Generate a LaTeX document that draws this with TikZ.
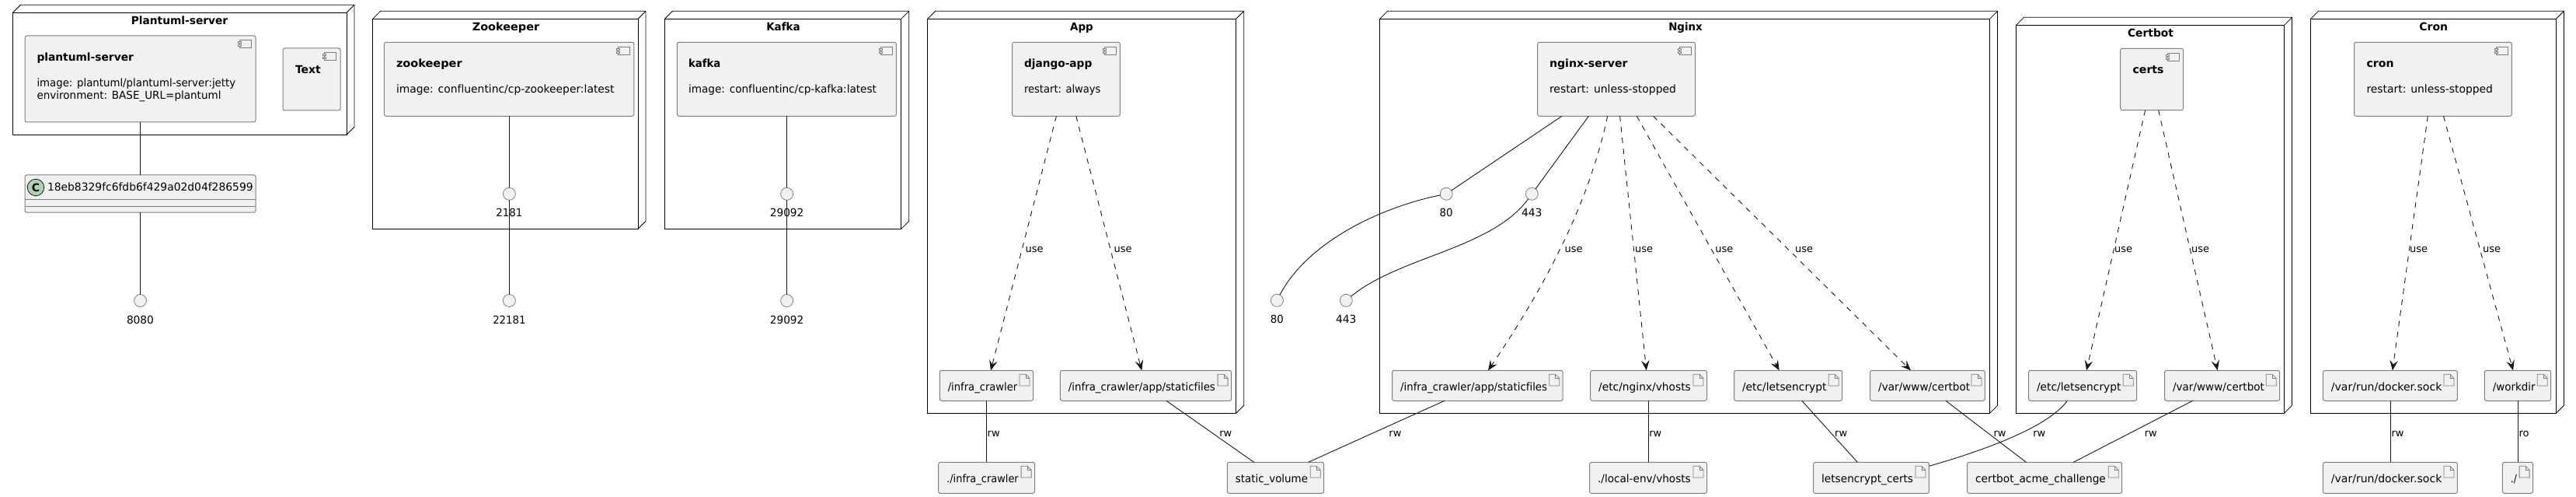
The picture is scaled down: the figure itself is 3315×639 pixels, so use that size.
\documentclass[tikz,border=0pt]{standalone}
\usepackage{graphicx}
\usepackage{fontspec}
\setmainfont[Ligatures=NoCommon]{DejaVu Sans}
\usetikzlibrary{arrows.meta}
\definecolor{boxfill}{HTML}{F1F1F1}
\definecolor{ink}{HTML}{181818}
\definecolor{edgegray}{HTML}{7F7F7F}
\definecolor{classgreen}{HTML}{ADD1B2}
\tikzset{
  base14/.style={font=\fontsize{14}{16}\selectfont,text=black,inner sep=0pt,outer sep=0pt,anchor=base west},
  boldtitle/.style={base14,font=\fontsize{14}{16}\selectfont\bfseries},
  midtitle/.style={boldtitle,anchor=base},
  edgelabel/.style={base14,font=\fontsize{13}{15}\selectfont},
  portlabel/.style={base14,anchor=base},
  deploybox/.style={rectangle,draw=black,line width=1pt,inner sep=0pt,outer sep=0pt},
  deployline/.style={draw=black,line width=.8pt},
  compbox/.style={rectangle,draw=edgegray,fill=boxfill,line width=1pt,rounded corners=2.5pt,inner sep=0pt,outer sep=0pt},
  iconline/.style={draw=edgegray,line width=.8pt,fill=boxfill},
  wire/.style={draw=ink,line width=.9pt},
  usewire/.style={draw=ink,line width=.9pt,dash pattern=on 7pt off 7pt,-{Stealth[length=13pt,width=10.5pt,inset=5pt]}},
  portdot/.style={circle,draw=edgegray,fill=boxfill,line width=.8pt,minimum size=16pt,inner sep=0pt,outer sep=0pt},
}
\newcount\txtnum
\newcommand{\fitw}[2]{\resizebox{#1pt}{\height}{#2}}
\newcommand{\puttext}[5]{\global\advance\txtnum by 1\relax\node[#1] (txt\the\txtnum) at (#2,#3) {\fitw{#4}{#5}};}
\newcommand{\plaintext}[4]{\global\advance\txtnum by 1\relax\node[#1] (txt\the\txtnum) at (#2,#3) {#4};}
\newcommand{\mkrect}[6]{%
  \pgfmathsetmacro{\bw}{#5-#3}\pgfmathsetmacro{\bh}{#6-#4}%
  \pgfmathsetmacro{\bx}{(#5+#3)/2}\pgfmathsetmacro{\by}{(#6+#4)/2}%
  \node[#1,minimum width=\bw pt,minimum height=\bh pt] (#2) at (\bx,\by) {};}
\newcommand{\deploy}[9]{% name x1 y1 x2 y2 title tx ty width
  \mkrect{deploybox}{#1}{#2}{#3}{#4}{#5}
  \pgfmathsetmacro{\dw}{#4-#2}\pgfmathsetmacro{\dh}{#5-#3}
  \draw[deployline] (#1.north west) -- ++(10,-10) -- ++(\dw,0) -- ++(0,\dh) -- (#1.south east);
  \draw[deployline] (#1.north east) -- ++(10,-10);
  \puttext{midtitle}{#7}{#8}{#9}{#6}}
\newcommand{\comp}[5]{% name x1 y1 x2 y2
  \mkrect{compbox}{#1}{#2}{#3}{#4}{#5}
  \begin{scope}[shift={(#1.north east)}]
    \draw[iconline] (-20.5,5.7) rectangle (-5.5,15.7);
    \draw[iconline] (-22.5,7.7) rectangle (-18.5,9.7);
    \draw[iconline] (-22.5,11.7) rectangle (-18.5,13.7);
  \end{scope}}
\newcommand{\filebox}[7]{% name x1 y1 x2 y2 text width
  \mkrect{compbox}{#1}{#2}{#3}{#4}{#5}
  \begin{scope}[shift={(#1.north east)}]
    \draw[iconline] (-17.5,5) -- (-9.5,5) -- (-4.5,10) -- (-4.5,19.7) -- (-17.5,19.7) -- cycle;
    \draw[iconline,fill=none] (-9.5,5) -- (-9.5,10) -- (-4.5,10);
  \end{scope}
  \pgfmathsetmacro{\fby}{(#3+#5)/2+6.4}
  \puttext{base14}{#2+10.5}{\fby}{#7}{#6}}
\newcommand{\port}[5]{% name x y label width
  \node[portdot] (#1) at (#2,#3) {};
  \puttext{portlabel}{#2}{#3+29.5}{#5}{#4}}
\newcommand{\link}[4]{\draw[wire] (#2,0 |- #1.south) -- (#4,0 |- #3.north);}
\newcommand{\uselink}[4]{\draw[usewire] (#2,0 |- #1.south) -- (#4,0 |- #3.north);}
\begin{document}
\begin{tikzpicture}[x=1pt,y=-1pt]
\useasboundingbox[fill=white] (0,0) rectangle (3315,639);
% deployment nodes
\deploy{plantumlNode}{16.5}{16.3}{446}{173.3}{Plantuml-server}{231}{32}{124.4}
\deploy{zookeeperNode}{479.6}{24.3}{821}{294.3}{Zookeeper}{651}{40}{86.3}
\deploy{kafkaNode}{855.4}{24.3}{1159.8}{294.3}{Kafka}{1008}{40}{43.4}
\deploy{appNode}{1193.7}{24.3}{1590.7}{531.3}{App}{1392}{40}{29.6}
\deploy{nginxNode}{1775.5}{24.3}{2560.5}{531.3}{Nginx}{2169}{40}{43.4}
\deploy{certbotNode}{2594.5}{32.3}{2939.5}{531.3}{Certbot}{2767.5}{48}{59}
\deploy{cronNode}{2973.6}{24.3}{3289.4}{531.3}{Cron}{3131.8}{40}{36.7}
% components
\comp{plantumlServer}{32}{46}{329}{157}
\puttext{boldtitle}{47.5}{79}{124.4}{plantuml-server}
\puttext{base14}{47.5}{112}{255.7}{image: plantuml/plantuml-server:jetty}
\puttext{base14}{47.5}{128}{237}{environment: BASE\_URL=plantuml}
\comp{textComp}{364}{62}{438}{142}
\puttext{boldtitle}{380}{95}{32.8}{Text}
\comp{zookeeper}{494.4}{54.3}{815.8}{149.3}
\puttext{boldtitle}{510}{87}{84.7}{zookeeper}
\puttext{base14}{510}{120}{280.6}{image: confluentinc/cp-zookeeper:latest}
\comp{kafka}{871.3}{54.3}{1153.4}{149.3}
\puttext{boldtitle}{886}{87}{41.3}{kafka}
\puttext{base14}{886}{120}{242}{image: confluentinc/cp-kafka:latest}
\comp{djangoApp}{1302.7}{54.3}{1441.4}{149.3}
\puttext{boldtitle}{1318}{87}{87.3}{django-app}
\puttext{base14}{1318}{120}{98.5}{restart: always}
\comp{nginxServer}{1978.7}{54.3}{2181.5}{149.3}
\puttext{boldtitle}{1994}{87}{100.6}{nginx-server}
\puttext{base14}{1994}{120}{163}{restart: unless-stopped}
\comp{certs}{2728.7}{62.3}{2809.6}{141.7}
\puttext{boldtitle}{2744.6}{95}{40}{certs}
\comp{cron}{3029.5}{54.3}{3232.4}{149.3}
\puttext{boldtitle}{3045.5}{87}{35}{cron}
\puttext{base14}{3045.5}{120}{162.5}{restart: unless-stopped}
% class
\mkrect{compbox}{hashClass}{32}{225}{329}{273}
\draw[draw=edgegray,line width=1pt] (hashClass.west |- 0,257) -- (hashClass.east |- 0,257);
\draw[draw=edgegray,line width=1pt] (hashClass.west |- 0,265) -- (hashClass.east |- 0,265);
\node[circle,draw=ink,fill=classgreen,line width=.8pt,minimum size=21.5pt,inner sep=0pt,font=\fontsize{14}{16}\selectfont\bfseries] (classMark) at (46,241) {C};
\puttext{base14}{61}{246}{264.7}{18eb8329fc6fdb6f429a02d04f286599}
% file boxes: inner
\filebox{fInfra}{1209.3}{476.3}{1329.5}{515.3}{/infra\_crawler}{89.5}
\filebox{fAppStatic}{1364.4}{476.3}{1584.6}{515.3}{/infra\_crawler/app/staticfiles}{189}
\filebox{fNgStatic}{1791.6}{476.3}{2011.2}{515.3}{/infra\_crawler/app/staticfiles}{189}
\filebox{fVhosts}{2046.7}{476.3}{2196.5}{515.3}{/etc/nginx/vhosts}{118.6}
\filebox{fNgLets}{2231.5}{476.3}{2370.7}{515.3}{/etc/letsencrypt}{108.5}
\filebox{fNgCertbot}{2406.7}{476.3}{2554.4}{515.3}{/var/www/certbot}{118}
\filebox{fCbLets}{2610.5}{476.3}{2749.7}{515.3}{/etc/letsencrypt}{108.5}
\filebox{fCbCertbot}{2785.5}{476.3}{2933.7}{515.3}{/var/www/certbot}{118}
\filebox{fDocker}{2989.4}{476.3}{3162.4}{515.3}{/var/run/docker.sock}{142.4}
\filebox{fWorkdir}{3197.3}{476.3}{3282.7}{515.3}{/workdir}{54.9}
% file boxes: outer
\filebox{vInfra}{1207.7}{594.3}{1331.6}{634.3}{./infra\_crawler}{92.6}
\filebox{vStatic}{1579.3}{594.3}{1703.7}{634.3}{static\_volume}{93.2}
\filebox{vEnv}{2045.6}{594.3}{2196.5}{634.3}{./local-env/vhosts}{119.6}
\filebox{vCerts}{2333.6}{594.3}{2482.4}{634.3}{letsencrypt\_certs}{118}
\filebox{vAcme}{2531.6}{594.3}{2730.7}{634.3}{certbot\_acme\_challenge}{167.8}
\filebox{vDocker}{2989.4}{594.3}{3162.4}{634.3}{/var/run/docker.sock}{142.4}
\filebox{vRoot}{3220.4}{594.3}{3259.6}{634.3}{./}{8}
% connectors: plantuml, zookeeper, kafka
\link{plantumlServer}{180.5}{hashClass}{180.5}
\port{p8080}{180.5}{386.5}{8080}{35}
\draw[wire] (180.5,0 |- hashClass.south) -- (p8080);
\port{pz2181}{655.4}{249.3}{2181}{33.9}
\port{pz22181}{655.4}{386.5}{22181}{42.3}
\draw[wire] (655.4,0 |- zookeeper.south) -- (pz2181);
\draw[wire] (pz2181) -- (pz22181);
\port{pk29092}{1012.6}{249.3}{29092}{43.4}
\port{pk29092b}{1012.6}{386.5}{29092}{43.4}
\draw[wire] (1012.6,0 |- kafka.south) -- (pk29092);
\draw[wire] (pk29092) -- (pk29092b);
% nginx ports
\port{pn80}{1861.2}{249.3}{80}{17}
\port{pn443}{1971.3}{249.3}{443}{26.5}
\port{po80}{1643.4}{386.3}{80}{17}
\port{po443}{1732.3}{386.3}{443}{26.5}
\draw[wire] (2010,0 |- nginxServer.south) -- (pn80);
\draw[wire] (2044.4,0 |- nginxServer.south) -- (pn443);
\draw[wire] (pn80) .. controls (1770,268) and (1680,315) .. (po80);
\draw[wire] (pn443) .. controls (1920,320) and (1800,330) .. (po443);
% use connectors
\uselink{djangoApp}{1359.4}{fInfra}{1275}
\uselink{djangoApp}{1384.8}{fAppStatic}{1469.2}
\draw[usewire] (2068.7,0 |- nginxServer.south) .. controls (2045,260) and (1990,366) .. (1915,0 |- fNgStatic.north);
\uselink{nginxServer}{2084.6}{fVhosts}{2118.7}
\uselink{nginxServer}{2106.3}{fNgLets}{2289.7}
\uselink{nginxServer}{2127.5}{fNgCertbot}{2459}
\uselink{certs}{2760.6}{fCbLets}{2685.1}
\uselink{certs}{2777.7}{fCbCertbot}{2853.7}
\uselink{cron}{3124.3}{fDocker}{3078.8}
\uselink{cron}{3144.5}{fWorkdir}{3234}
% volume connectors
\link{fInfra}{1269.6}{vInfra}{1269.6}
\link{fAppStatic}{1501}{vStatic}{1613.7}
\link{fNgStatic}{1858.8}{vStatic}{1683.6}
\link{fVhosts}{2121.3}{vEnv}{2121.3}
\link{fNgLets}{2318.8}{vCerts}{2390.3}
\link{fNgCertbot}{2504}{vAcme}{2607.3}
\draw[wire] (2660.3,0 |- fCbLets.south) .. controls (2635,550) and (2550,580) .. (vCerts.east |- 0,599.3);
\link{fCbCertbot}{2821.6}{vAcme}{2668.2}
\link{fDocker}{3076.5}{vDocker}{3076.5}
\link{fWorkdir}{3240.4}{vRoot}{3240.4}
% edge labels
\plaintext{edgelabel}{1319.6}{324}{use}
\plaintext{edgelabel}{1433.5}{324}{use}
\plaintext{edgelabel}{2013.7}{324}{use}
\plaintext{edgelabel}{2104}{324}{use}
\plaintext{edgelabel}{2207.4}{324}{use}
\plaintext{edgelabel}{2310}{324}{use}
\plaintext{edgelabel}{2721}{324}{use}
\plaintext{edgelabel}{2820}{324}{use}
\plaintext{edgelabel}{3101}{324}{use}
\plaintext{edgelabel}{3195}{324}{use}
\plaintext{edgelabel}{1270.7}{561}{rw}
\plaintext{edgelabel}{1569.3}{561}{rw}
\plaintext{edgelabel}{1787.4}{561}{rw}
\plaintext{edgelabel}{2122.3}{561}{rw}
\plaintext{edgelabel}{2361.2}{561}{rw}
\plaintext{edgelabel}{2565.5}{561}{rw}
\plaintext{edgelabel}{2616.3}{561}{rw}
\plaintext{edgelabel}{2759.8}{561}{rw}
\plaintext{edgelabel}{3077.6}{561}{rw}
\plaintext{edgelabel}{3241.6}{561}{ro}
\end{tikzpicture}
\end{document}
